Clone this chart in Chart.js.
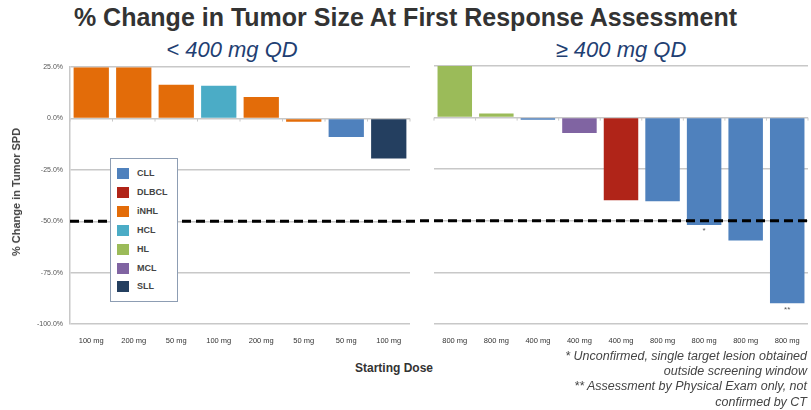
<!DOCTYPE html>
<html>
<head>
<meta charset="utf-8">
<script src="https://cdn.jsdelivr.net/npm/chart.js@4.4.1/dist/chart.umd.min.js"></script>
<style>
  body { margin: 0; background: #fff; font-family: "Liberation Sans", Arial, sans-serif; }
  #wrap { position: relative; width: 811px; height: 410px; overflow: hidden; }
  canvas { position: absolute; top: 56px; }
  .txt { position: absolute; white-space: nowrap; }
  #title { left: 0; width: 811px; top: 3px; text-align: center; font-weight: bold; font-size: 25px; color: #333; }
  .sub { top: 37px; font-style: italic; font-size: 22px; color: #1f3f73; text-align: center; width: 300px; }
  #ytitle { left: 16px; top: 192px; transform: translate(-50%, -50%) rotate(-90deg); font-weight: bold; font-size: 11px; color: #444; }
  #xtitle { left: 355px; top: 361px; font-weight: bold; font-size: 12px; color: #333; }
  #notes { right: 4px; top: 349px; text-align: right; font-style: italic; font-size: 12.5px; line-height: 15.2px; color: #444; }
  #legend { position: absolute; left: 110px; top: 158px; width: 66px; height: 142px; border: 1px solid #8d9db3; background: #fff; }
  .item { position: absolute; left: 6px; height: 11px; font-size: 9px; font-weight: bold; color: #444; line-height: 11px; }
  .item span { display: inline-block; width: 12px; height: 11px; vertical-align: top; margin-right: 8px; }
</style>
</head>
<body>
<div id="wrap">
  <div id="title" class="txt">% Change in Tumor Size At First Response Assessment</div>
  <div class="txt sub" style="left:82px">&lt; 400 mg QD</div>
  <div class="txt sub" style="left:471px">≥ 400 mg QD</div>
  <canvas id="left" width="420" height="300" style="left:0"></canvas>
  <canvas id="right" width="391" height="300" style="left:420px"></canvas>
  <div id="ytitle" class="txt">% Change in Tumor SPD</div>
  <div id="xtitle" class="txt">Starting Dose</div>
  <div id="notes" class="txt">* Unconfirmed, single target lesion obtained<br>outside screening window<br>** Assessment by Physical Exam only, not<br>confirmed by CT</div>
  <div id="legend"></div>
</div>
<script>
// histology types and their colours
let types = ['CLL', 'DLBCL', 'iNHL', 'HCL', 'HL', 'MCL', 'SLL'];
let typeColors = ['#4f81bd', '#b02418', '#e36c09', '#4bacc6', '#9bbb59', '#8064a2', '#243f60'];

// < 400 mg QD
let leftDoses = ['100 mg', '200 mg', '50 mg', '100 mg', '200 mg', '50 mg', '50 mg', '100 mg'];
let leftChange = [25, 25, 16.5, 16, 10.5, -1.5, -9, -19.5];
let leftType = ['iNHL', 'iNHL', 'iNHL', 'HCL', 'iNHL', 'iNHL', 'CLL', 'SLL'];
let leftNotes = ['', '', '', '', '', '', '', ''];

// >= 400 mg QD
let rightDoses = ['800 mg', '800 mg', '400 mg', '400 mg', '400 mg', '800 mg', '800 mg', '800 mg', '800 mg'];
let rightChange = [25, 2, -1, -7.5, -40, -40.5, -52, -59.5, -90];
let rightType = ['HL', 'HL', 'CLL', 'MCL', 'DLBCL', 'CLL', 'CLL', 'CLL', 'CLL'];
let rightNotes = ['', '', '', '', '', '', '*', '', '**'];

let yTicks = [25, 0, -25, -50, -75, -100];
let cutoff = -50;

function colorOf(t) {
    return typeColors[types.indexOf(t)];
}

// legend box
let legend = document.getElementById('legend');
for (let i = 0; i < types.length; i++) {
    let div = document.createElement('div');
    div.className = 'item';
    div.style.top = (9 + i * 18.9) + 'px';
    div.innerHTML = '<span style="background:' + typeColors[i] + '"></span>' + types[i];
    legend.appendChild(div);
}

// dashed -50% line, tick marks on the zero line, footnote marks
let extras = {
    id: 'extras',
    afterDatasetsDraw(chart, args, opts) {
        let ctx = chart.ctx;
        let area = chart.chartArea;
        let y = chart.scales.y;
        ctx.save();
        // small ticks on 0 line
        let y0 = y.getPixelForValue(0);
        ctx.strokeStyle = '#c8c8c8';
        ctx.lineWidth = 1;
        let n = chart.data.labels.length;
        for (let i = 0; i <= n; i++) {
            let px = area.left + (area.right - area.left) * i / n;
            ctx.beginPath();
            ctx.moveTo(px, y0);
            ctx.lineTo(px, y0 + 3);
            ctx.stroke();
        }
        // notes
        let meta = chart.getDatasetMeta(0);
        ctx.fillStyle = '#555';
        ctx.font = '8px "Liberation Sans", Arial';
        ctx.textAlign = 'center';
        ctx.textBaseline = 'top';
        opts.notes.forEach(function (t, i) {
            if (t) {
                let bar = meta.data[i];
                ctx.fillText(t, bar.x, bar.base > bar.y ? bar.y - 10 : bar.y + 2);
            }
        });
        // dashed cutoff line
        let yc = y.getPixelForValue(cutoff);
        ctx.strokeStyle = '#000';
        ctx.lineWidth = 3;
        ctx.setLineDash([9, 5]);
        ctx.beginPath();
        ctx.moveTo(opts.fromEdge ? 0 : area.left, yc);
        ctx.lineTo(opts.fromEdge ? area.right : chart.width, yc);
        ctx.stroke();
        ctx.restore();
    }
};

function makeChart(id, labels, values, kinds, notes, side) {
    let isLeft = side === 'left';
    return new Chart(document.getElementById(id), {
        type: 'bar',
        data: {
            labels: labels,
            datasets: [{
                data: values,
                backgroundColor: kinds.map(colorOf),
                barPercentage: 0.83,
                categoryPercentage: 1
            }]
        },
        options: {
            responsive: false,
            animation: false,
            devicePixelRatio: 1,
            layout: { padding: isLeft ? { left: 10, right: 10, top: 10, bottom: 10 } : { left: 14, right: 3, top: 10, bottom: 10 } },
            plugins: {
                legend: { display: false },
                tooltip: { enabled: false },
                extras: { notes: notes, fromEdge: !isLeft }
            },
            scales: {
                x: {
                    grid: { display: false },
                    border: { display: false },
                    ticks: { font: { size: 7.5, family: '"Liberation Sans", Arial' }, color: '#333', padding: 4, maxRotation: 0, autoSkip: false },
                    afterFit: function (s) { s.height = 22; }
                },
                y: {
                    min: -100,
                    max: 25,
                    afterBuildTicks: function (s) { s.ticks = yTicks.map(function (v) { return { value: v }; }); },
                    grid: { color: '#c8c8c8', lineWidth: 1.5, drawTicks: false },
                    border: { display: isLeft, color: '#c8c8c8', width: 1.5 },
                    ticks: {
                        display: isLeft,
                        font: { size: 7, family: '"Liberation Sans", Arial' },
                        color: '#555',
                        padding: 7,
                        callback: function (v) { return v.toFixed(1) + '%'; }
                    },
                    afterFit: function (s) { s.width = isLeft ? 60 : 0; }
                }
            }
        },
        plugins: [extras]
    });
}

makeChart('left', leftDoses, leftChange, leftType, leftNotes, 'left');
makeChart('right', rightDoses, rightChange, rightType, rightNotes, 'right');
</script>
</body>
</html>
